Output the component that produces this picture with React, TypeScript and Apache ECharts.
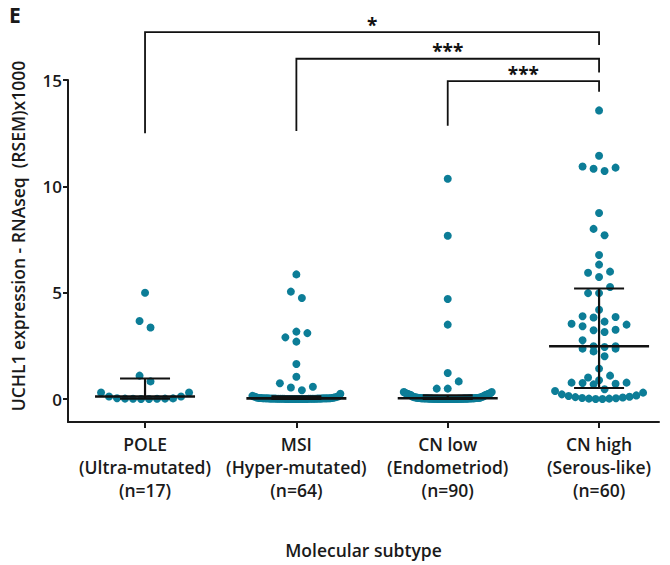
import { useEffect, useRef } from "react";
import * as echarts from "echarts";

// ---------- data ----------
const groupNames = ["POLE", "MSI", "CN low", "CN high"];
const groupSubtitles = ["(Ultra-mutated)", "(Hyper-mutated)", "(Endometriod)", "(Serous-like)"];
const groupCounts = ["(n=17)", "(n=64)", "(n=90)", "(n=60)"];
const yTickValues = [0, 5, 10, 15];
const xTickValues = [1, 2, 3, 4];

const poleValues = [5.0, 3.67, 3.36, 1.1, 0.83, 0.31, 0.31, 0.12, 0.12, 0.0, 0.0, 0.01, 0.01, 0.02, 0.02, 0.03, 0.04];

const msiValues = [
  5.86, 5.05, 4.75, 3.17, 3.1, 2.9, 2.7, 1.65, 1.05, 0.74, 0.58, 0.54, 0.41, 0.25,
  0, 0, 0, 0, 0, 0, 0, 0, 0, 0, 0, 0, 0,
  0.01, 0.01, 0.01, 0.01, 0.01, 0.01, 0.01, 0.01, 0.01, 0.01,
  0.02, 0.02, 0.02, 0.02, 0.02, 0.02, 0.02,
  0.03, 0.03, 0.03, 0.03, 0.03,
  0.04, 0.04, 0.04, 0.04,
  0.05, 0.05, 0.05, 0.06, 0.06,
  0.08, 0.09, 0.1, 0.12, 0.13, 0.15,
];

const cnLowValues = [
  10.36, 7.68, 4.7, 3.5, 1.22, 0.83, 0.49, 0.49, 0.33, 0.33,
  0, 0, 0, 0, 0, 0, 0, 0, 0, 0, 0, 0, 0, 0, 0, 0, 0, 0,
  0.01, 0.01, 0.01, 0.01, 0.01, 0.01, 0.01, 0.01, 0.01, 0.01,
  0.02, 0.02, 0.02, 0.02, 0.02, 0.02, 0.02, 0.02, 0.02,
  0.03, 0.03, 0.03, 0.03, 0.03, 0.03, 0.03,
  0.04, 0.04, 0.04, 0.04, 0.04, 0.04,
  0.05, 0.05, 0.05, 0.05, 0.05,
  0.06, 0.06, 0.06, 0.06,
  0.08, 0.08, 0.08, 0.1, 0.1, 0.12, 0.12,
  0.15, 0.17, 0.18, 0.19, 0.2, 0.21, 0.22, 0.23, 0.24, 0.25, 0.26, 0.27, 0.28, 0.3,
];

const cnHighValues = [
  13.57, 11.44, 10.93, 10.88, 10.83, 10.72, 8.75, 8.0, 7.7, 6.77, 6.32, 5.99, 5.94, 5.74, 5.27,
  4.98, 4.98, 4.2, 3.89, 3.86, 3.83, 3.64, 3.54, 3.5, 3.42, 3.26, 3.23, 3.15, 2.76,
  2.48, 2.48, 2.45, 2.37, 2.37, 2.24, 2.01, 1.43, 1.1, 1.01, 0.88, 0.77, 0.77, 0.75, 0.72, 0.69,
  0.46, 0.38, 0.3, 0.22, 0.17, 0.14, 0.11, 0.09, 0.07, 0.05, 0.04, 0.02, 0.02, 0.0, 0.0,
];

const groupValues = [poleValues, msiValues, cnLowValues, cnHighValues];

// significance brackets: [from group, to group]
const bracketPairs = [[1, 4], [2, 4], [3, 4]];
const bracketTops = [17.25, 16.0, 14.95];
const bracketLeftEnds = [12.5, 12.6, 12.85];
const bracketRightEnds = [16.65, 15.35, 14.45];
const bracketLabels = ["*", "***", "***"];

// ---------- helpers ----------
const FONT = "'Open Sans', 'DejaVu Sans', sans-serif";
const DOT = "#0c7d97";
const INK = "#1a1a1a";

function swarmOffsets(values: number[], rowSpan: number, maxStep: number, halfWidth: number) {
  const idx = values.map((_, i) => i).sort((a, b) => values[a] - values[b]);
  const off = new Array(values.length).fill(0);
  let i = 0;
  while (i < idx.length) {
    const start = values[idx[i]];
    let j = i;
    while (j < idx.length && values[idx[j]] - start < rowSpan) j++;
    const row = idx.slice(i, j);
    const k = row.length;
    const step = k > 1 ? Math.min(maxStep, (2 * halfWidth) / (k - 1)) : 0;
    const slots: number[] = [];
    if (k % 2 === 1) {
      slots.push(0);
      for (let s = 1; slots.length < k; s++) {
        slots.push(-s);
        if (slots.length < k) slots.push(s);
      }
    } else {
      for (let s = 0; slots.length < k; s++) {
        slots.push(s + 0.5);
        slots.push(-(s + 0.5));
      }
    }
    row.forEach((id, r) => (off[id] = slots[r] * step));
    i = j;
  }
  return off;
}

function quantile(sorted: number[], p: number) {
  const pos = (sorted.length + 1) * p;
  const lo = Math.floor(pos);
  const frac = pos - lo;
  if (lo < 1) return sorted[0];
  if (lo >= sorted.length) return sorted[sorted.length - 1];
  return sorted[lo - 1] + frac * (sorted[lo] - sorted[lo - 1]);
}

export default function App() {
  const ref = useRef<HTMLDivElement>(null);

  useEffect(() => {
    if (!ref.current) return;
    const chart = echarts.init(ref.current, undefined, { renderer: "svg" });

    const dotData: number[][] = [];
    const statData: number[][] = [];
    groupValues.forEach((vals, g) => {
      const offs = swarmOffsets(vals, 0.4, 11, 44);
      vals.forEach((v, i) => dotData.push([g + 1, v, offs[i]]));
      const s = [...vals].sort((a, b) => a - b);
      statData.push([g + 1, quantile(s, 0.5), quantile(s, 0.25), quantile(s, 0.75)]);
    });

    const bracketData = bracketPairs.map((p, i) => [p[0], p[1], bracketTops[i], bracketLeftEnds[i], bracketRightEnds[i]]);

    const option: any = {
      animation: false,
      grid: { left: 68, right: 11, top: 80, bottom: 143, containLabel: false },
      xAxis: {
        type: "value",
        min: 0.491,
        max: 4.396,
        splitLine: { show: false },
        axisLine: { show: true, onZero: false, lineStyle: { color: INK, width: 2 } },
        axisTick: { show: true, customValues: xTickValues, length: 6, lineStyle: { color: INK, width: 2 } },
        axisLabel: {
          customValues: xTickValues,
          formatter: (v: number) => {
            const i = Math.round(v) - 1;
            return [groupNames[i], groupSubtitles[i], groupCounts[i]].join("\n");
          },
          color: INK,
          fontFamily: FONT,
          fontSize: 17.5,
          fontWeight: 600,
          lineHeight: 23,
          margin: 10,
        },
        name: "Molecular subtype",
        nameLocation: "middle",
        nameGap: 119,
        nameTextStyle: { color: INK, fontFamily: FONT, fontSize: 17.5, fontWeight: 600 },
      },
      yAxis: {
        type: "value",
        min: -1.08,
        max: 15,
        splitLine: { show: false },
        axisLine: { show: true, onZero: false, lineStyle: { color: INK, width: 2 } },
        axisTick: { show: true, customValues: yTickValues, length: 5, lineStyle: { color: INK, width: 2 } },
        axisLabel: { customValues: yTickValues, color: INK, fontFamily: FONT, fontSize: 17, fontWeight: 600, margin: 6 },
      },
      graphic: [
        {
          type: "text",
          left: 9,
          top: 4,
          style: { text: "E", font: `bold 21px ${FONT}`, fill: INK },
        },
        {
          type: "text",
          x: 18,
          y: 236,
          rotation: Math.PI / 2,
          style: {
            text: "UCHL1 expression - RNAseq  (RSEM)x1000",
            font: `600 17.5px ${FONT}`,
            fill: INK,
            align: "center",
            verticalAlign: "middle",
          },
        },
      ],
      series: [
        {
          type: "custom",
          z: 2,
          clip: false,
          data: dotData,
          renderItem: (_p: any, api: any) => {
            const c = api.coord([api.value(0), api.value(1)]);
            return {
              type: "circle",
              shape: { cx: c[0] + api.value(2), cy: c[1], r: 4 },
              style: { fill: DOT },
            };
          },
        },
        {
          type: "custom",
          z: 3,
          clip: false,
          data: statData,
          renderItem: (_p: any, api: any) => {
            const g = api.value(0);
            const m = api.coord([g, api.value(1)]);
            const q1 = api.coord([g, api.value(2)]);
            const q3 = api.coord([g, api.value(3)]);
            const x = m[0];
            const st = { stroke: "#111", lineWidth: 2.2 };
            return {
              type: "group",
              children: [
                { type: "line", shape: { x1: x, y1: q1[1], x2: x, y2: q3[1] }, style: st },
                { type: "line", shape: { x1: x - 25, y1: q1[1], x2: x + 25, y2: q1[1] }, style: st },
                { type: "line", shape: { x1: x - 25, y1: q3[1], x2: x + 25, y2: q3[1] }, style: st },
                { type: "line", shape: { x1: x - 50, y1: m[1], x2: x + 50, y2: m[1] }, style: { stroke: "#111", lineWidth: 2.6 } },
              ],
            };
          },
        },
        {
          type: "custom",
          z: 4,
          clip: false,
          data: bracketData,
          renderItem: (p: any, api: any) => {
            const a = api.value(0);
            const b = api.value(1);
            const top = api.value(2);
            const l = api.coord([a, api.value(3)]);
            const lt = api.coord([a, top]);
            const rt = api.coord([b, top]);
            const r = api.coord([b, api.value(4)]);
            return {
              type: "group",
              children: [
                {
                  type: "polyline",
                  shape: { points: [l, lt, rt, r] },
                  style: { stroke: "#111", lineWidth: 1.8, fill: "none" },
                },
                {
                  type: "text",
                  x: (lt[0] + rt[0]) / 2,
                  y: lt[1] + 2,
                  style: {
                    text: bracketLabels[p.dataIndex],
                    font: `bold 19px ${FONT}`,
                    fill: "#111",
                    align: "center",
                    verticalAlign: "bottom",
                  },
                },
              ],
            };
          },
        },
      ],
    };

    chart.setOption(option);
    return () => chart.dispose();
  }, []);

  return (
    <div
      ref={ref}
      style={{ width: 670, height: 565, position: "absolute", left: 0, top: 0 }}
    />
  );
}
